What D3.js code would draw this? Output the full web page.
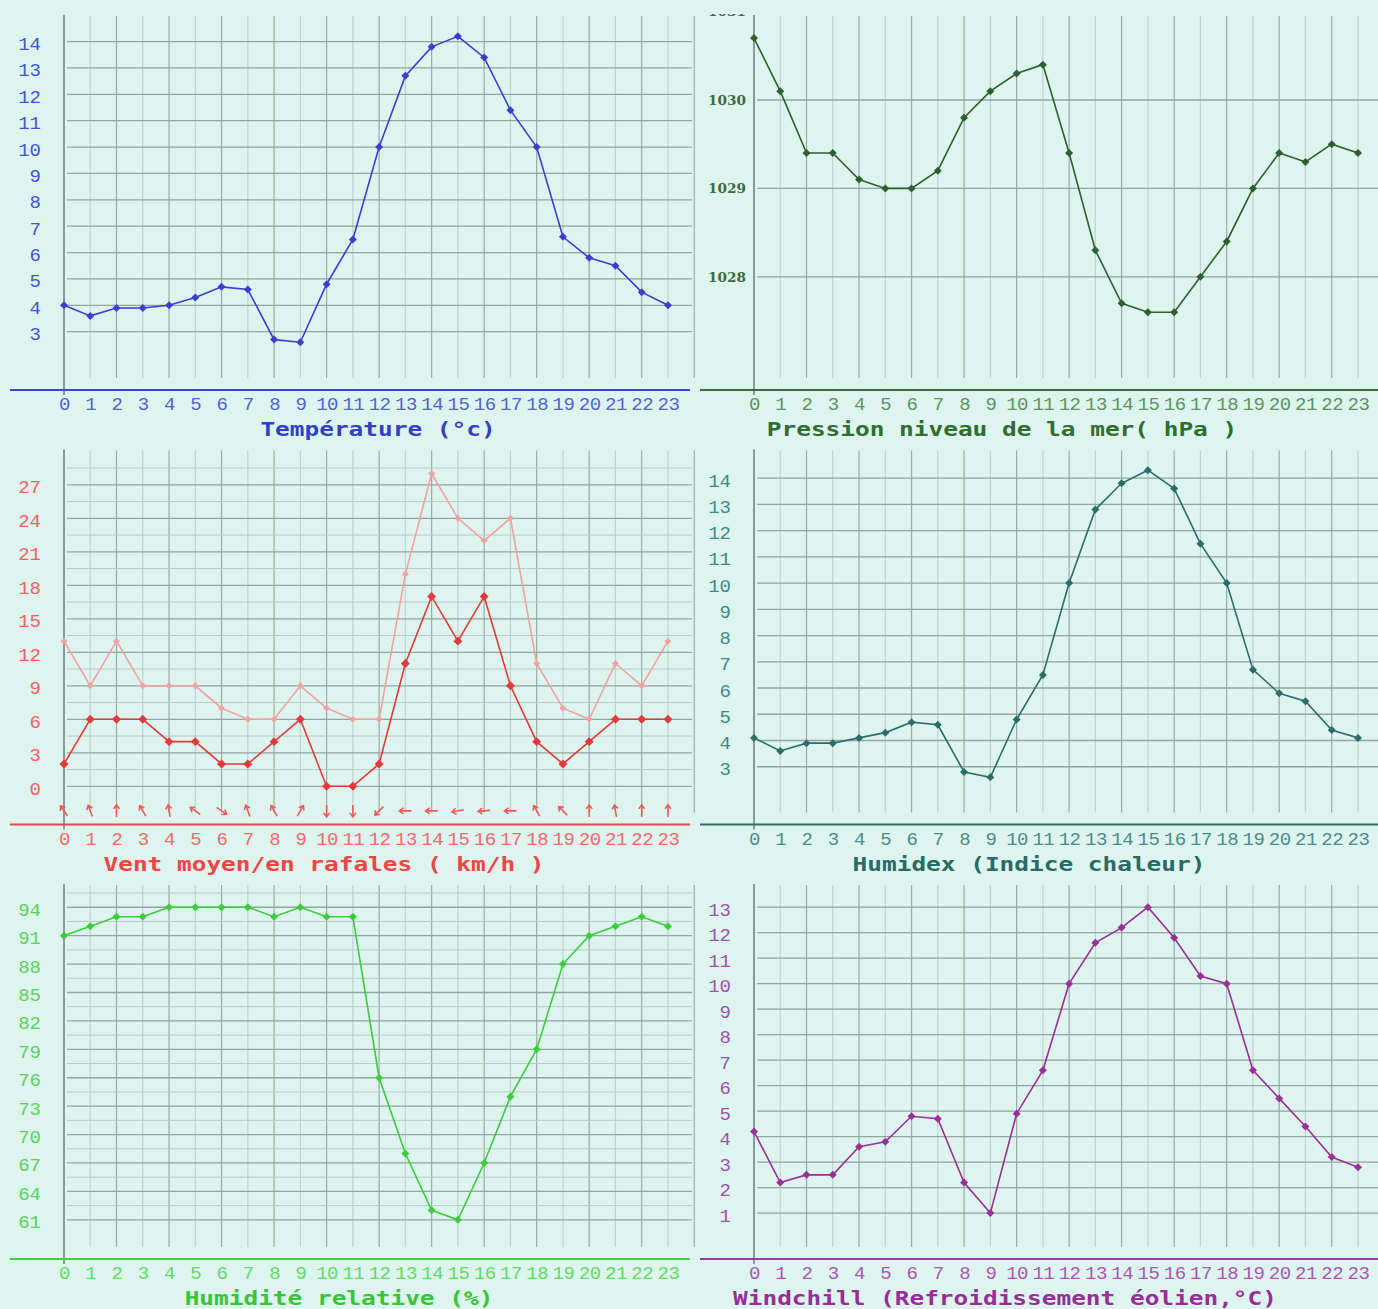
<!DOCTYPE html>
<html>
<head>
<meta charset="utf-8">
<script src="https://cdn.jsdelivr.net/npm/d3@7"></script>
<style>
  body { margin: 0; background: #ddf4ef; }
  svg { display: block; }
</style>
</head>
<body>
<div class="graphes"></div>
<script>
/* donnees horaires */
var heures = [0, 1, 2, 3, 4, 5, 6, 7, 8, 9, 10, 11, 12, 13, 14, 15, 16, 17, 18, 19, 20, 21, 22, 23];

var temperature = [4.0, 3.6, 3.9, 3.9, 4.0, 4.3, 4.7, 4.6, 2.7, 2.6, 4.8, 6.5, 10.0, 12.7, 13.8, 14.2, 13.4, 11.4, 10.0, 6.6, 5.8, 5.5, 4.5, 4.0];
var pression = [1030.7, 1030.1, 1029.4, 1029.4, 1029.1, 1029.0, 1029.0, 1029.2, 1029.8, 1030.1, 1030.3, 1030.4, 1029.4, 1028.3, 1027.7, 1027.6, 1027.6, 1028.0, 1028.4, 1029.0, 1029.4, 1029.3, 1029.5, 1029.4];
var ventMoyen = [2, 6, 6, 6, 4, 4, 2, 2, 4, 6, 0, 0, 2, 11, 17, 13, 17, 9, 4, 2, 4, 6, 6, 6];
var ventRafales = [13, 9, 13, 9, 9, 9, 7, 6, 6, 9, 7, 6, 6, 19, 28, 24, 22, 24, 11, 7, 6, 11, 9, 13];
var ventDirection = [-35, -20, 0, -30, -10, -55, 125, -20, -30, 30, 180, 180, -135, -90, -90, -100, -95, -90, -30, -45, 0, -10, 0, 0];
var humidex = [4.1, 3.6, 3.9, 3.9, 4.1, 4.3, 4.7, 4.6, 2.8, 2.6, 4.8, 6.5, 10.0, 12.8, 13.8, 14.3, 13.6, 11.5, 10.0, 6.7, 5.8, 5.5, 4.4, 4.1];
var humidite = [91, 92, 93, 93, 94, 94, 94, 94, 93, 94, 93, 93, 76, 68, 62, 61, 67, 74, 79, 88, 91, 92, 93, 92];
var windchill = [4.2, 2.2, 2.5, 2.5, 3.6, 3.8, 4.8, 4.7, 2.2, 1.0, 4.9, 6.6, 10.0, 11.6, 12.2, 13.0, 11.8, 10.3, 10.0, 6.6, 5.5, 4.4, 3.2, 2.8];

/* graduations */
var ticksTemp = [3, 4, 5, 6, 7, 8, 9, 10, 11, 12, 13, 14];
var ticksPression = [1028, 1029, 1030, 1031];
var ticksVent = [0, 3, 6, 9, 12, 15, 18, 21, 24, 27];
var ticksHumidex = [3, 4, 5, 6, 7, 8, 9, 10, 11, 12, 13, 14];
var ticksHumidite = [61, 64, 67, 70, 73, 76, 79, 82, 85, 88, 91, 94];
var ticksWindchill = [1, 2, 3, 4, 5, 6, 7, 8, 9, 10, 11, 12, 13];

/* titres */
var titreTemp = 'Température (°c)';
var titrePression = 'Pression niveau de la mer( hPa )';
var titreVent = 'Vent moyen/en rafales ( km/h )';
var titreHumidex = 'Humidex (Indice chaleur)';
var titreHumidite = 'Humidité relative (%)';
var titreWindchill = 'Windchill (Refroidissement éolien,°C)';

/* geometrie commune d'un panneau */
var W = 1378, H = 1309;
var axeX = 64, pas = 26.26, haut = 16, bas = 390, finGrille = 692;

var svg = d3.select('.graphes').append('svg')
            .attr('width', W).attr('height', H);
svg.append('rect').attr('width', W).attr('height', H).attr('fill', '#ddf4ef');

svg.append('clipPath').attr('id', 'clipHaut')
   .append('rect').attr('x', -2000).attr('y', 14).attr('width', 4000).attr('height', H);

function drawPanel( p ){
	/*
	Dessine un panneau
	p.dx, p.dy -- position du panneau
	p.series -- [{valeurs, couleur, taille}]
	*/
	var g = svg.append('g').attr('transform', 'translate(' + p.dx + ',' + p.dy + ')');

	var x = d3.scaleLinear().domain([0, 23]).range([axeX, axeX + 23 * pas]);
	var y = d3.scaleLinear().domain(p.domaine).range([bas, haut]);

	//grille verticale
	var hGrille = d3.range(1, 25);
	g.append('g').selectAll('line').data(hGrille).enter().append('line')
		.attr('x1', function(d){ return x(d); }).attr('x2', function(d){ return x(d); })
		.attr('y1', haut).attr('y2', bas - 12)
		.attr('stroke', function(d){ return d % 2 === 0 ? '#9aaba6' : '#c0d4cf'; })
		.attr('stroke-width', 1.2);

	//demi-graduations
	if( p.demi ){
		var demi = p.ticks.map(function(d){ return d + p.demi; })
		                  .filter(function(d){ return y(d) > haut; });
		g.append('g').selectAll('line').data(demi).enter().append('line')
			.attr('x1', axeX + 3).attr('x2', finGrille)
			.attr('y1', function(d){ return y(d); }).attr('y2', function(d){ return y(d); })
			.attr('stroke', '#b9cbc6').attr('stroke-width', 1);
	}

	//grille horizontale
	var lignesH = p.ticks.filter(function(d){ return y(d) > haut; });
	g.append('g').selectAll('line').data(lignesH).enter().append('line')
		.attr('x1', axeX + 3).attr('x2', finGrille)
		.attr('y1', function(d){ return y(d); }).attr('y2', function(d){ return y(d); })
		.attr('stroke', '#94a4a0').attr('stroke-width', 1.3);

	//axe y
	g.append('line').attr('x1', axeX).attr('x2', axeX).attr('y1', haut - 1).attr('y2', bas + 5)
		.attr('stroke', '#5f6b68').attr('stroke-width', 1.3);

	//etiquettes y
	var gy = g.append('g').attr('transform', 'translate(' + axeX + ',0)')
		.call( d3.axisLeft(y).tickValues(p.ticks).tickSize(0).tickPadding(p.petit ? 8 : 23)
			.tickFormat(d3.format('d')) );
	gy.select('.domain').remove();
	gy.selectAll('text')
		.attr('font-family', p.petit ? 'DejaVu Serif' : 'Liberation Mono')
		.attr('font-size', p.petit ? 12 : 19)
		.attr('font-weight', p.petit ? 'bold' : 'normal')
		.attr('dy', p.petit ? '0.35em' : '0.42em')
		.attr('fill', p.couleurY);
	if( p.petit ){
		gy.attr('clip-path', 'url(#clipHaut)');
		gy.selectAll('text').attr('textLength', 38).attr('lengthAdjust', 'spacingAndGlyphs');
	}

	//axe x
	g.append('line').attr('x1', 10).attr('x2', 690).attr('y1', bas).attr('y2', bas)
		.attr('stroke', p.couleurAxe).attr('stroke-width', 2.2);

	var gx = g.append('g').attr('transform', 'translate(0,' + bas + ')')
		.call( d3.axisBottom(x).tickValues(heures).tickSize(0).tickPadding(7) );
	gx.select('.domain').remove();
	gx.selectAll('text')
		.attr('font-family', 'Liberation Mono').attr('font-size', 19)
		.attr('letter-spacing', -0.5)
		.attr('fill', p.couleurX);

	//fleches de direction du vent
	if( p.fleches ){
		var gf = g.append('g').selectAll('g').data(p.fleches).enter().append('g')
			.attr('transform', function(d, i){
				return 'translate(' + x(heures[i]) + ',' + y(-2.2) + ') rotate(' + d + ')'; });
		gf.append('path').attr('d', 'M0,6L0,-6M-3,-2L0,-6L3,-2')
			.attr('fill', 'none').attr('stroke', '#ef5a5a').attr('stroke-width', 1.6);
	}

	//courbes
	var ligne = d3.line().x(function(d, i){ return x(heures[i]); }).y(function(d){ return y(d); });
	var carre = d3.symbol().type(d3.symbolSquare);
	p.series.forEach(function( s ){
		g.append('path').datum(s.valeurs).attr('d', ligne)
			.attr('fill', 'none').attr('stroke', s.couleur).attr('stroke-width', 1.6);
		g.append('g').selectAll('path').data(s.valeurs).enter().append('path')
			.attr('d', carre.size(s.taille))
			.attr('transform', function(d, i){
				return 'translate(' + x(heures[i]) + ',' + y(d) + ') rotate(45)'; })
			.attr('fill', s.couleur);
	});

	//titre
	g.append('text').text(p.titre)
		.attr('x', p.titreX).attr('y', bas + 46)
		.attr('text-anchor', 'middle')
		.attr('font-family', 'DejaVu Sans Mono').attr('font-weight', 'bold').attr('font-size', 19)
		.attr('textLength', p.titre.length * 14.7).attr('lengthAdjust', 'spacingAndGlyphs')
		.attr('fill', p.couleurTitre);
}

drawPanel({ dx: 0, dy: 0, domaine: [0.79, 14.97], ticks: ticksTemp, titre: titreTemp, titreX: 378,
	couleurY: '#4253d6', couleurX: '#5262d8', couleurAxe: '#3b45c8', couleurTitre: '#3340c4',
	series: [{ valeurs: temperature, couleur: '#3a3fd0', taille: 32 }] });

drawPanel({ dx: 690, dy: 0, domaine: [1026.72, 1030.95], ticks: ticksPression, titre: titrePression, titreX: 312,
	petit: true,
	couleurY: '#3d6b3d', couleurX: '#5c945c', couleurAxe: '#3a6a3a', couleurTitre: '#2f6e2f',
	series: [{ valeurs: pression, couleur: '#2e5f2e', taille: 32 }] });

drawPanel({ dx: 0, dy: 434.5, domaine: [-3.42, 30.07], ticks: ticksVent, titre: titreVent, titreX: 324,
	fleches: ventDirection, demi: 1.5,
	couleurY: '#f06262', couleurX: '#f06a6a', couleurAxe: '#e04a4a', couleurTitre: '#f04444',
	series: [{ valeurs: ventRafales, couleur: '#f3a0a0', taille: 24 },
	         { valeurs: ventMoyen, couleur: '#e23a3a', taille: 40 }] });

drawPanel({ dx: 690, dy: 434.5, domaine: [0.8, 15.05], ticks: ticksHumidex, titre: titreHumidex, titreX: 339,
	couleurY: '#3f8a85', couleurX: '#4a8d88', couleurAxe: '#2f6f6a', couleurTitre: '#2a6a66',
	series: [{ valeurs: humidex, couleur: '#2b6d68', taille: 32 }] });

drawPanel({ dx: 0, dy: 869, domaine: [56.86, 96.35], ticks: ticksHumidite, titre: titreHumidite, titreX: 339,
	demi: 1.5,
	couleurY: '#5ad35a', couleurX: '#66d866', couleurAxe: '#3fcf3f', couleurTitre: '#36c636',
	series: [{ valeurs: humidite, couleur: '#3ccc3c', taille: 32 }] });

drawPanel({ dx: 690, dy: 869, domaine: [-0.8, 13.87], ticks: ticksWindchill, titre: titreWindchill, titreX: 315,
	couleurY: '#a052a8', couleurX: '#a858b0', couleurAxe: '#9a3a9a', couleurTitre: '#9a2c9a',
	series: [{ valeurs: windchill, couleur: '#9a2f9a', taille: 32 }] });
</script>
</body>
</html>
